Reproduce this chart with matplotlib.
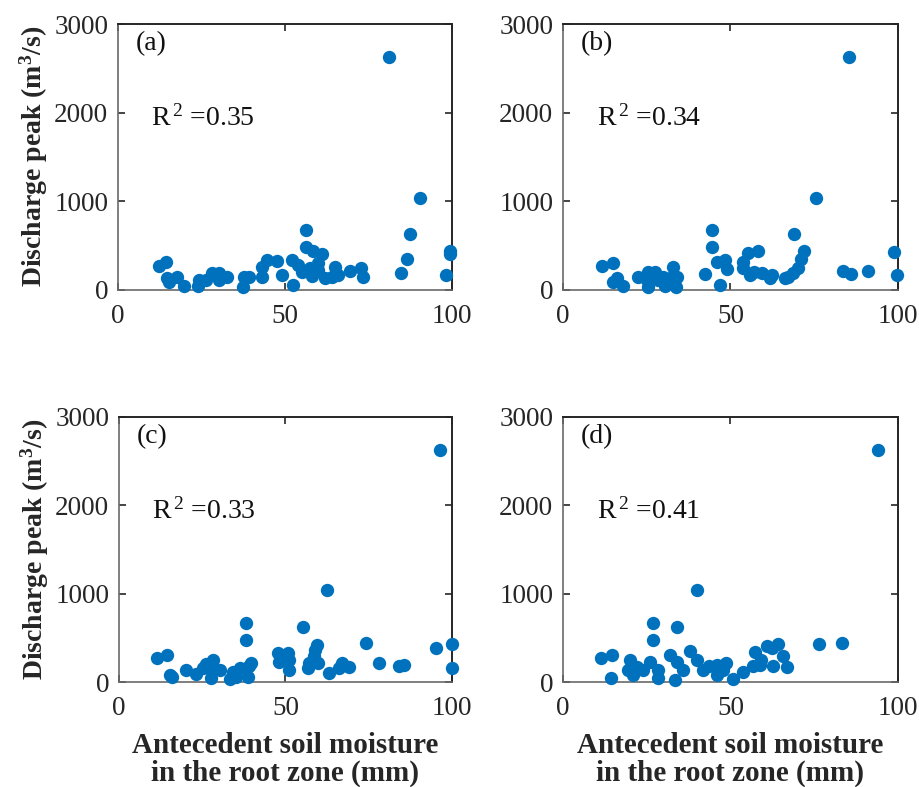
import numpy as np
import matplotlib
matplotlib.use('Agg')
import matplotlib.pyplot as plt

plt.rcParams['font.family'] = ['Liberation Serif', 'DejaVu Serif']
plt.rcParams['mathtext.fontset'] = 'custom'
plt.rcParams['mathtext.rm'] = 'Liberation Serif'
plt.rcParams['mathtext.it'] = 'Liberation Serif'
plt.rcParams['mathtext.bf'] = 'Liberation Serif:bold'

## values (soil moisture in mm, discharge peak in m3/s)
xa = [81, 90.4, 87.5, 86.6, 84.6, 99.3, 99.3, 98.2, 56.3, 56.3, 58.5, 61.2, 59.8, 57.5, 54, 52,
      52.5, 49.1, 47.6, 44.6, 43.1, 43.0, 37.7, 37.4, 39.1, 32.7, 30.2, 30.2, 28.2, 26.4, 24.3,
      23.8, 19.8, 17.8, 15.3, 14.8, 14.3, 12.2, 65, 62, 64, 69.4, 72.9, 73.4, 65.9, 60, 55, 58]
ya = [2630, 1040, 625, 345, 190, 440, 400, 170, 670, 482, 437, 401, 303, 245, 282, 333,
      51, 164, 326, 333, 250, 145, 145, 32, 145, 145, 183, 107, 190, 107, 107,
      39, 39, 137, 88, 126, 311, 265, 250, 126, 145, 213, 240, 145, 164, 220, 200, 150]

xb = [85.4, 75.4, 69.0, 71.9, 71.2, 70.2, 68.8, 67.3, 66.3, 83.7, 85.9, 91.1, 98.8, 99.8, 44.6,
      44.6, 46.9, 42.4, 45.9, 48.4, 48.9, 58.3, 55.3, 53.8, 53.8, 55.8, 59.3, 61.8, 62.3, 11.5,
      14.8, 16.0, 15.0, 18.0, 22.5, 25.5, 27.5, 25.5, 25.0, 28.5, 30.4, 29.9, 32.9, 34.1, 33.7,
      31.9, 57.0, 27.0]
yb = [2630, 1040, 625, 439, 345, 239, 183, 145, 126, 208, 181, 211, 427, 164, 672,
      484, 51, 175, 316, 333, 228, 435, 416, 316, 240, 164, 183, 126, 164, 265,
      303, 126, 88, 39, 137, 201, 201, 32, 107, 107, 39, 145, 250, 145, 24,
      126, 200, 150]

xc = [96.5, 62.4, 38.2, 38.2, 55.4, 59.4, 59.0, 74.2, 95.3, 99.9, 99.9, 78.1, 84.1, 85.6, 67.0,
      69.2, 66.2, 63.2, 57.2, 59.7, 56.7, 50.7, 47.7, 51.2, 48.2, 51.2, 39.7, 38.7, 36.2, 34.2,
      33.2, 35.2, 30.2, 28.2, 27.7, 26.2, 25.2, 23.2, 20.2, 15.8, 15.3, 14.3, 11.5, 58.5, 27.5, 39.0]
yc = [2630, 1041, 672, 476, 627, 420, 364, 440, 392, 433, 167, 214, 188, 196, 214,
      169, 158, 108, 214, 214, 158, 327, 335, 252, 233, 139, 221, 56, 158, 120,
      34, 56, 139, 252, 45, 203, 165, 90, 139, 56, 82, 308, 270, 300, 150, 190]

xd = [94, 39.9, 26.8, 26.8, 33.9, 76.5, 83.2, 64.3, 62.3, 60.8, 65.6, 66.8, 62.8, 57.3, 58.8,
      56.8, 53.8, 50.8, 48.8, 47.9, 45.9, 45.9, 41.9, 39.9, 37.9, 35.9, 33.9, 31.9, 33.4, 28.5,
      28.5, 26.0, 24.0, 22.0, 20.0, 19.5, 21.0, 14.5, 11.3, 14.2, 59.0, 43.5]
yd = [2630, 1041, 672, 476, 627, 432, 440, 432, 386, 405, 302, 175, 190, 340, 199,
      180, 120, 34, 221, 139, 195, 82, 139, 252, 356, 139, 233, 308, 30, 45,
      139, 233, 139, 177, 252, 139, 82, 308, 270, 45, 250, 190]

panel_labels = ['(a)', '(b)', '(c)', '(d)']
r2_values = ['0.35', '0.34', '0.33', '0.41']
xticks = [0, 50, 100]
yticks = [0, 1000, 2000, 3000]

fig = plt.figure(figsize=(9.2, 7.87), dpi=100)
# axes boxes in figure fractions: left, bottom, width, height
boxes = [[0.1283, 0.632, 0.363, 0.3374],
         [0.612, 0.632, 0.364, 0.3374],
         [0.1293, 0.133, 0.362, 0.3374],
         [0.612, 0.133, 0.364, 0.3374]]
data = [(xa, ya), (xb, yb), (xc, yc), (xd, yd)]

for i in range(4):
    ax = fig.add_axes(boxes[i])
    x, y = data[i]
    ax.plot(x, y, 'o', color='#0072BD', markersize=9.6, markeredgewidth=0, clip_on=False, zorder=3)
    ax.set_xlim(0, 100)
    ax.set_ylim(0, 3000)
    ax.set_xticks(xticks)
    ax.set_yticks(yticks)
    ax.tick_params(direction='in', top=True, right=True, labelsize=19.5, length=5,
                   width=1.2, colors='#262626')
    ax.tick_params(axis='x', pad=10)
    ax.tick_params(axis='y', pad=7)
    for s in ['left', 'bottom']:
        ax.spines[s].set_color('#6a6a6a')
        ax.spines[s].set_linewidth(1.2)
    for s in ['top', 'right']:
        ax.spines[s].set_color('#262626')
        ax.spines[s].set_linewidth(1.4)
    ax.text(0.054, 0.925, panel_labels[i], transform=ax.transAxes, fontsize=20,
            va='center', ha='left', color='#111111')
    ax.text(0.10, 0.645, 'R$^{\\,2}$ =' + r2_values[i], transform=ax.transAxes, fontsize=20,
            va='center', ha='left', color='#111111')
    if i in (0, 2):
        ax.set_ylabel('Discharge peak (m$^{\\mathbf{3}}$/s)', fontsize=20, fontweight='bold',
                      color='#262626', labelpad=3)
    if i in (2, 3):
        ax.set_xlabel('Antecedent soil moisture\nin the root zone (mm)', fontsize=21,
                      fontweight='bold', color='#262626', labelpad=8, linespacing=1.0)

fig.savefig('out.png', dpi=100)
